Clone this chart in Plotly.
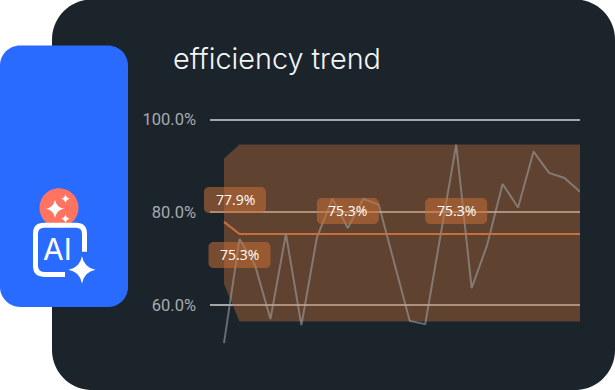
import plotly.graph_objects as go

points = list(range(24))
trend_values = [51.7, 74.2, 68.6, 56.9, 75.3, 55.6, 74.5, 82.9, 76.6, 82.9, 81.6, 69.0,
                56.5, 55.8, 75.5, 94.6, 63.6, 72.9, 86.1, 81.0, 93.1, 88.5, 87.4, 84.4]
average_values = [77.9] + [75.3] * 23
band_upper = [91.6] + [94.6] * 23
band_lower = [64.5] + [56.4] * 23
tick_values = [60, 80, 100]
tick_labels = ["60.0%", "80.0%", "100.0%"]
title_text = "efficiency trend"
point_labels = [(0, 77.9, "77.9%", 11, 22), (1, 75.3, "75.3%", 0, -21),
                (8, 75.3, "75.3%", 0, 23), (15, 75.3, "75.3%", 0, 23)]

X_RANGE = [-0.905, 23]
Y_RANGE = [50, 101]
L, R, T, B = 210, 580, 115.38, 351
W, H = R - L, B - T


def X(px):
    return (px - L) / W


def Y(py):
    return (B - py) / H


def P(px, py):
    return f"{X(px):.5f},{Y(py):.5f}"


def rrect(x0, y0, x1, y1, r):
    k = r * 0.448
    return (f"M{P(x0 + r, y0)} L{P(x1 - r, y0)} C{P(x1 - k, y0)} {P(x1, y0 + k)} {P(x1, y0 + r)} "
            f"L{P(x1, y1 - r)} C{P(x1, y1 - k)} {P(x1 - k, y1)} {P(x1 - r, y1)} "
            f"L{P(x0 + r, y1)} C{P(x0 + k, y1)} {P(x0, y1 - k)} {P(x0, y1 - r)} "
            f"L{P(x0, y0 + r)} C{P(x0, y0 + k)} {P(x0 + k, y0)} {P(x0 + r, y0)} Z")


def sparkle(cx, cy, r):
    c = r * 0.16
    return (f"M{P(cx, cy - r)} Q{P(cx + c, cy - c)} {P(cx + r, cy)} Q{P(cx + c, cy + c)} {P(cx, cy + r)} "
            f"Q{P(cx - c, cy + c)} {P(cx - r, cy)} Q{P(cx - c, cy - c)} {P(cx, cy - r)} Z")


def path_shape(path, fill, layer="below"):
    return dict(type="path", xref="paper", yref="paper", path=path, fillcolor=fill,
                line=dict(width=0), layer=layer)


def label_box(dx, dy, hw=31, hh=13, r=5):
    k = r * 0.448
    x0, x1, y0, y1 = dx - hw, dx + hw, dy - hh, dy + hh
    return (f"M{x0 + r},{y0} L{x1 - r},{y0} C{x1 - k},{y0} {x1},{y0 + k} {x1},{y0 + r} "
            f"L{x1},{y1 - r} C{x1},{y1 - k} {x1 - k},{y1} {x1 - r},{y1} "
            f"L{x0 + r},{y1} C{x0 + k},{y1} {x0},{y1 - k} {x0},{y1 - r} "
            f"L{x0},{y0 + r} C{x0},{y0 + k} {x0 + k},{y0} {x0 + r},{y0} Z")


shapes = [
    path_shape(rrect(52, 0, 615, 390, 40), "#1b232b"),
    path_shape(rrect(0, 46, 128, 307, 20), "#2a6bff"),
    path_shape(rrect(39.5, 188.5, 78.5, 227.5, 19.5), "#ff7360"),
    path_shape(sparkle(55, 209, 9), "#ffffff"),
    path_shape(sparkle(65.5, 199, 4.5), "#ffffff"),
    path_shape(sparkle(65.5, 219, 4.5), "#ffffff"),
    dict(type="path", xref="paper", yref="paper", layer="below",
         path=(f"M{P(84.5, 252)} L{P(84.5, 234)} Q{P(84.5, 225.5)} {P(76, 225.5)} "
               f"L{P(44, 225.5)} Q{P(35.5, 225.5)} {P(35.5, 234)} L{P(35.5, 266)} "
               f"Q{P(35.5, 274.5)} {P(44, 274.5)} L{P(65, 274.5)}"),
         line=dict(color="#ffffff", width=5), fillcolor="rgba(0,0,0,0)"),
    path_shape(sparkle(82, 270, 13.5), "#ffffff"),
]

annotations = [
    dict(xref="paper", yref="paper", x=X(170.5), y=Y(59), xanchor="left", yanchor="middle", text=title_text,
         showarrow=False, font=dict(family="Inter", size=28.8, color="#f4f6f8", weight=300)),
    dict(xref="paper", yref="paper", x=X(57.5), y=Y(249.5), xanchor="center", yanchor="middle", text="AI",
         showarrow=False, font=dict(family="Inter", size=30, color="#ffffff", weight=400)),
]

for idx, val, txt, dx, dy in point_labels:
    # paper-anchored so the box can overhang the plot area, but still placed from the data
    shapes.append(dict(type="path", xref="paper", yref="paper", xsizemode="pixel", ysizemode="pixel",
                       xanchor=(idx - X_RANGE[0]) / (X_RANGE[1] - X_RANGE[0]),
                       yanchor=(val - Y_RANGE[0]) / (Y_RANGE[1] - Y_RANGE[0]),
                       path=label_box(dx, dy),
                       fillcolor="rgba(197,112,55,0.55)", line=dict(width=0), layer="above"))
    annotations.append(dict(x=idx, y=val, text=txt, showarrow=False, xshift=dx, yshift=dy,
                            font=dict(family="Open Sans", size=14, color="#ffffff")))

fig = go.Figure()
fig.add_trace(go.Scatter(x=points, y=band_lower, mode="lines", line=dict(width=0), hoverinfo="skip", showlegend=False))
fig.add_trace(go.Scatter(x=points, y=band_upper, mode="lines", line=dict(width=0), fill="tonexty",
                         fillcolor="rgba(197,112,55,0.4)", hoverinfo="skip", showlegend=False))
fig.add_trace(go.Scatter(x=points, y=trend_values, mode="lines", line=dict(color="rgba(165,168,170,0.55)", width=2),
                         showlegend=False))
fig.add_trace(go.Scatter(x=points, y=average_values, mode="lines", line=dict(color="#c9703a", width=2),
                         showlegend=False))

fig.update_layout(
    width=615, height=390, margin=dict(l=L, r=615 - R, t=T, b=390 - B),
    paper_bgcolor="#ffffff", plot_bgcolor="rgba(0,0,0,0)",
    shapes=shapes, annotations=annotations, showlegend=False,
    xaxis=dict(range=X_RANGE, visible=False, showgrid=False, zeroline=False),
    yaxis=dict(range=Y_RANGE, tickvals=tick_values, ticktext=tick_labels, showgrid=True, gridcolor="#a4a6a8",
               gridwidth=1.5, zeroline=False, showline=False, ticks="", ticklabelstandoff=13,
               tickfont=dict(family="Roboto", size=16.5, color="#a8abae")),
)

fig.write_html("out.html", config=dict(displayModeBar=False),
               post_script="document.body.style.margin='0';")
